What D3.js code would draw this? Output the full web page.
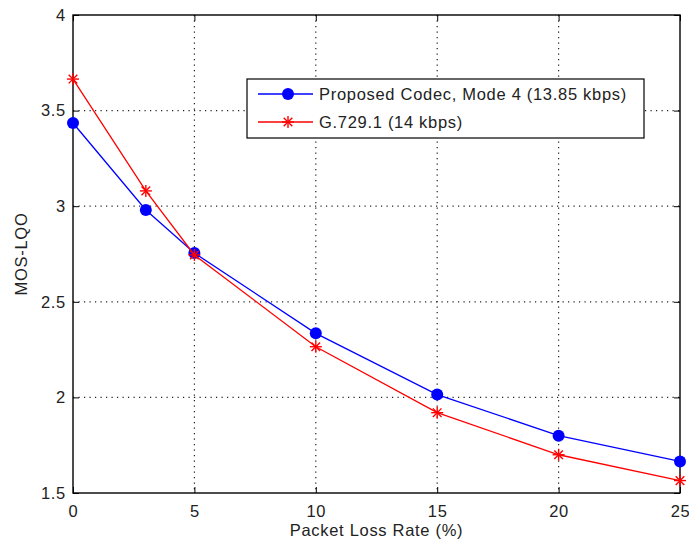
<!DOCTYPE html>
<html>
<head>
<meta charset="utf-8">
<script src="https://cdn.jsdelivr.net/npm/d3@7"></script>
<style>
  html, body { margin: 0; padding: 0; background: #fff; }
  svg { display: block; font-family: Arial, "Liberation Sans", sans-serif; }
  svg text { letter-spacing: 0.7px; }
</style>
</head>
<body>
<svg id="chart" width="689" height="546"></svg>
<script>
// Packet loss rates (%) on the x axis
const lossRates = [0, 3, 5, 10, 15, 20, 25];
// MOS-LQO scores for each codec
const proposedMos = [3.435, 2.98, 2.755, 2.335, 2.015, 1.80, 1.665];
const g7291Mos    = [3.665, 3.08, 2.745, 2.265, 1.92, 1.70, 1.565];
const seriesNames = ["Proposed Codec, Mode 4 (13.85 kbps)", "G.729.1 (14 kbps)"];
const xTicks = [0, 5, 10, 15, 20, 25];
const yTicks = [1.5, 2, 2.5, 3, 3.5, 4];

const FS = "16.5px";
const svg = d3.select("#chart");
const m = { left: 73, right: 9, top: 15, bottom: 53 };
const W = 689, H = 546;
const x = d3.scaleLinear().domain([0, 25]).range([m.left, W - m.right]);
const y = d3.scaleLinear().domain([1.5, 4]).range([H - m.bottom, m.top]);

const g = svg.append("g");

// dotted grid
g.selectAll(".vg").data(xTicks.slice(1, -1)).enter().append("line")
  .attr("x1", d => x(d)).attr("x2", d => x(d))
  .attr("y1", y(4)).attr("y2", y(1.5))
  .attr("stroke", "#222").attr("stroke-width", 1.2).attr("stroke-dasharray", "1.2,4.3");
g.selectAll(".hg").data(yTicks.slice(1, -1)).enter().append("line")
  .attr("y1", d => y(d)).attr("y2", d => y(d))
  .attr("x1", x(0)).attr("x2", x(25))
  .attr("stroke", "#222").attr("stroke-width", 1.2).attr("stroke-dasharray", "1.2,4.3");

// axes with inward ticks on all four sides
const axisStyle = sel => {
  sel.select(".domain").remove();
  sel.selectAll(".tick line").attr("stroke", "#000");
  sel.selectAll("text").attr("fill", "#222").style("font-size", FS);
};
g.append("g").attr("transform", `translate(0,${y(1.5)})`)
  .call(d3.axisBottom(x).tickValues(xTicks).tickSize(-6).tickPadding(12).tickFormat(d3.format("d")))
  .call(axisStyle);
g.append("g").attr("transform", `translate(0,${y(4)})`)
  .call(d3.axisTop(x).tickValues(xTicks).tickSize(-6).tickFormat(""))
  .call(axisStyle);
g.append("g").attr("transform", `translate(${x(0)},0)`)
  .call(d3.axisLeft(y).tickValues(yTicks).tickSize(-6).tickPadding(7).tickFormat(d => d3.format("")(d)))
  .call(axisStyle);
g.append("g").attr("transform", `translate(${x(25)},0)`)
  .call(d3.axisRight(y).tickValues(yTicks).tickSize(-6).tickFormat(""))
  .call(axisStyle);

// plot frame
g.append("rect").attr("x", x(0)).attr("y", y(4))
  .attr("width", x(25) - x(0)).attr("height", y(1.5) - y(4))
  .attr("fill", "none").attr("stroke", "#000").attr("stroke-width", 1.4);

// axis titles
svg.append("text").attr("x", (x(0) + x(25)) / 2).attr("y", 536)
  .attr("text-anchor", "middle").attr("fill", "#222").style("font-size", FS)
  .text("Packet Loss Rate (%)");
svg.append("text").attr("transform", `translate(27,${(y(4) + y(1.5)) / 2}) rotate(-90)`)
  .attr("text-anchor", "middle").attr("fill", "#222").style("font-size", FS)
  .text("MOS-LQO");

const line = d3.line().x(d => x(d[0])).y(d => y(d[1]));
const blueData = lossRates.map((r, i) => [r, proposedMos[i]]);
const redData = lossRates.map((r, i) => [r, g7291Mos[i]]);

function star(sel, cx, cy, s) {
  const gg = sel.append("g").attr("transform", `translate(${cx},${cy})`)
    .attr("stroke", "#f00").attr("stroke-width", 1.4);
  gg.append("line").attr("x1", -s).attr("x2", s).attr("y1", 0).attr("y2", 0);
  gg.append("line").attr("y1", -s).attr("y2", s).attr("x1", 0).attr("x2", 0);
  const d = s * 0.72;
  gg.append("line").attr("x1", -d).attr("x2", d).attr("y1", -d).attr("y2", d);
  gg.append("line").attr("x1", -d).attr("x2", d).attr("y1", d).attr("y2", -d);
}

// blue series
g.append("path").datum(blueData).attr("d", line)
  .attr("fill", "none").attr("stroke", "#0000ff").attr("stroke-width", 1.3);
g.selectAll(".bdot").data(blueData).enter().append("circle")
  .attr("cx", d => x(d[0])).attr("cy", d => y(d[1])).attr("r", 6)
  .attr("fill", "#0000ff");

// red series
g.append("path").datum(redData).attr("d", line)
  .attr("fill", "none").attr("stroke", "#ff0000").attr("stroke-width", 1.3);
redData.forEach(d => star(g, x(d[0]), y(d[1]), 6));

// legend
const lg = svg.append("g");
lg.append("rect").attr("x", 247).attr("y", 79).attr("width", 397).attr("height", 59)
  .attr("fill", "#fff").attr("stroke", "#000").attr("stroke-width", 1.2);
const rows = [94, 122];
lg.append("line").attr("x1", 258).attr("x2", 313).attr("y1", rows[0]).attr("y2", rows[0])
  .attr("stroke", "#0000ff").attr("stroke-width", 1.3);
lg.append("circle").attr("cx", 288).attr("cy", rows[0]).attr("r", 6).attr("fill", "#0000ff");
lg.append("line").attr("x1", 258).attr("x2", 313).attr("y1", rows[1]).attr("y2", rows[1])
  .attr("stroke", "#ff0000").attr("stroke-width", 1.3);
star(lg, 288, rows[1], 6);
seriesNames.forEach((n, i) => {
  lg.append("text").attr("x", 319).attr("y", rows[i]).attr("dy", "0.36em")
    .attr("fill", "#222").style("font-size", FS).text(n);
});
</script>
</body>
</html>
